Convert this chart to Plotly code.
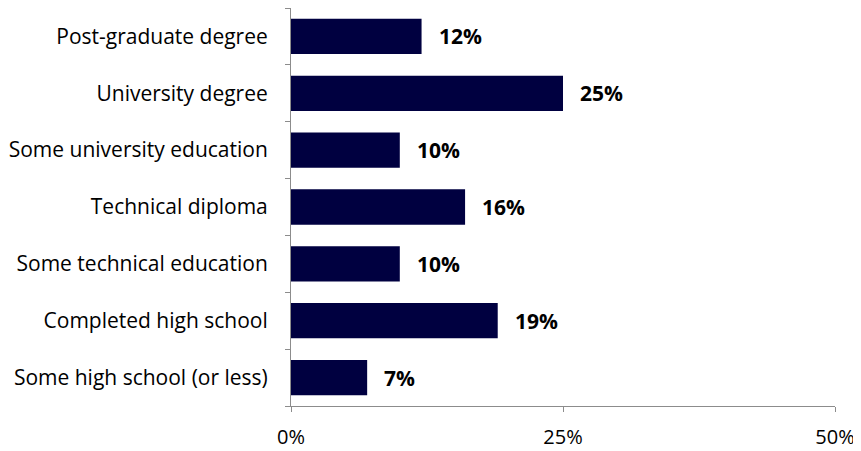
import plotly.graph_objects as go

categories = [
    'Post-graduate degree',
    'University degree',
    'Some university education',
    'Technical diploma',
    'Some technical education',
    'Completed high school',
    'Some high school (or less)',
]
values = [12, 25, 10, 16, 10, 19, 7]
x_ticks = [0, 25, 50]
x_tick_labels = ['0%', '25%', '50%']

BAR_COLOR = '#000040'
AXIS_COLOR = '#8c8c8c'
FONT = 'Open Sans, sans-serif'

# the page body has an 8px margin, so the figure is sized/offset to compensate
fig = go.Figure(go.Bar(
    x=values,
    y=categories,
    orientation='h',
    width=0.62,
    marker=dict(color=BAR_COLOR, line=dict(width=0)),
    hovertemplate='%{y}: %{x}%<extra></extra>',
))

for cat, val in zip(categories, values):
    fig.add_annotation(
        x=val, y=cat,
        text=f'<b>{val}%</b>',
        xanchor='left', xshift=15,
        showarrow=False,
        font=dict(size=21, color='black', family=FONT),
    )

fig.update_layout(
    width=853, height=443,
    paper_bgcolor='white',
    plot_bgcolor='white',
    margin=dict(l=283, r=26, t=0, b=45),
    showlegend=False,
    font=dict(family=FONT, size=20, color='black'),
    xaxis=dict(
        range=[0, 50],
        tickvals=x_ticks,
        ticktext=x_tick_labels,
        showgrid=False,
        zeroline=False,
        showline=True,
        linecolor=AXIS_COLOR,
        linewidth=1,
        ticks='outside',
        ticklen=5,
        tickcolor=AXIS_COLOR,
        ticklabelstandoff=8,
        automargin=False,
        tickfont=dict(size=20, color='black'),
    ),
    yaxis=dict(
        categoryorder='array',
        categoryarray=categories[::-1],
        showgrid=False,
        zeroline=False,
        showline=True,
        linecolor=AXIS_COLOR,
        linewidth=1,
        ticks='outside',
        ticklen=5,
        tickcolor=AXIS_COLOR,
        tickson='boundaries',
        ticklabelstandoff=18,
        automargin=False,
        tickfont=dict(size=21, color='black'),
    ),
)

fig.write_html('out.html')
